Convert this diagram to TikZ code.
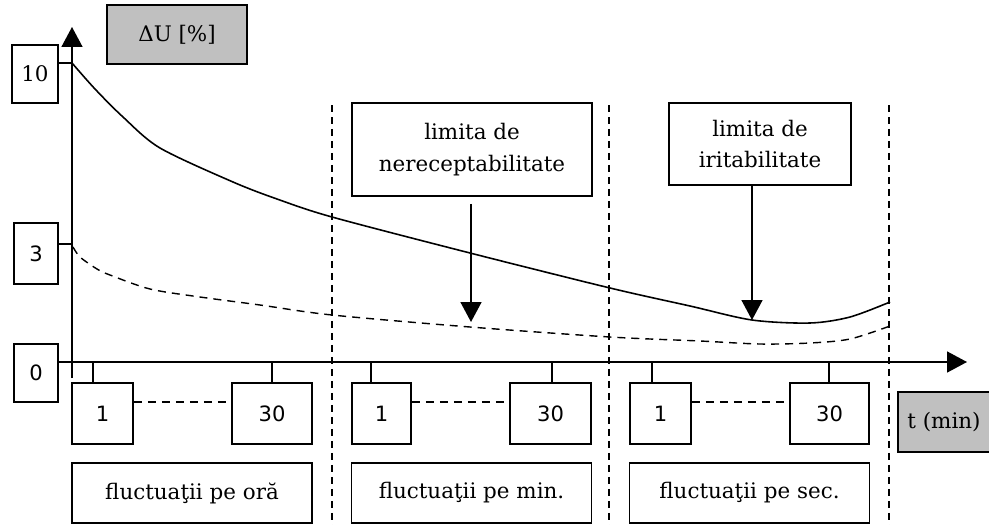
\documentclass[tikz,border=0pt]{standalone}
\usepackage{fontspec}
\setmainfont{DejaVu Serif}
\setsansfont{DejaVu Sans}
\usetikzlibrary{arrows.meta}
\definecolor{box_gray}{RGB}{192,192,192}

\begin{document}
\begin{tikzpicture}[x=0.02cm,y=-0.02cm,line width=0.9pt,>={Triangle[length=0.4cm,width=0.42cm]}]
    \tikzstyle{box}=[draw=black, rectangle, inner sep=0pt, align=center, text=black, font=\fontsize{12.2}{18}\selectfont]
    \tikzstyle{val}=[box, font=\sffamily\fontsize{12}{14}\selectfont, minimum height=1.22cm]
    \tikzstyle{tag}=[box, fill=box_gray, minimum height=1.2cm]
    \tikzstyle{band}=[box, minimum width=4.8cm, minimum height=1.2cm]
    \tikzstyle{divider}=[dash pattern=on 0.14cm off 0.1cm]
    \tikzstyle{gap}=[dash pattern=on 0.16cm off 0.12cm]

    \useasboundingbox (0,0) rectangle (989,524);

    % axes and scale values
    \coordinate (o)    at (72,362);
    \coordinate (ytop) at (72,27);
    \coordinate (ybot) at (72,378);
    \coordinate (xend) at (967,362);
    \coordinate (p10)  at (72,63);
    \coordinate (p3)   at (72,244);

    \node[box, minimum width=0.92cm, minimum height=1.16cm] (v10) at (35,74) {10};
    \node[val, minimum width=0.88cm, minimum height=1.22cm] (v3) at (36,253.5) {3};
    \node[val, minimum width=0.88cm, minimum height=1.16cm] (v0) at (36,373) {0};
    \node[tag, minimum width=2.8cm, minimum height=1.18cm] (du) at (177,34.5) {ΔU [\%]};
    \node[tag, minimum width=1.84cm] (tmin) at (944,422) {t (min)};

    \path
     (ybot) edge[->] (ytop)
     (o -| v0.east) edge[->] (xend)
     (p10 -| v10.east) edge[] (p10)
     (p3 -| v3.east) edge[] (p3)
     ;

    % time bands
    \foreach \x in {332,609,889}
      \draw[divider, line width=0.8pt] (\x,105) -- (\x,530);

    \node[val, minimum width=1.22cm] (a1)  at (102.5,413.5) {1};
    \node[val, minimum width=1.6cm]  (a30) at (272,413.5)   {30};
    \node[val, minimum width=1.18cm] (b1)  at (381.5,413.5) {1};
    \node[val, minimum width=1.62cm] (b30) at (550.5,413.5) {30};
    \node[val, minimum width=1.22cm] (c1)  at (660.5,413.5) {1};
    \node[val, minimum width=1.58cm] (c30) at (829.5,413.5) {30};

    \foreach \t/\b in {93/a1,272/a30,371/b1,552/b30,652/c1,829/c30}
      \draw (\t,362) -- (\b.north -| \t,0);

    \foreach \l/\r in {a1/a30,b1/b30,c1/c30}
      \draw[gap] ([yshift=0.23cm]\l.east) -- ([yshift=0.23cm]\r.west);

    \node[band] (fa) at (192,493)   {fluctuaţii pe oră};
    \node[band] (fb) at (471.5,493) {fluctuaţii pe min.};
    \node[band] (fc) at (749.5,493) {fluctuaţii pe sec.};

    % curves
    \draw plot[smooth] coordinates {(72,63) (95,89) (123,117) (160,148)
      (233,182) (277,199) (332,217) (470,253) (610,288) (690,306) (752,320)
      (810,323) (850,317) (890,302)};
    \draw[gap, line width=0.8pt] plot[smooth] coordinates {(73,247) (80,257) (97,269)
      (110,275) (150,289) (200,297) (260,305) (332,315) (470,327) (610,337)
      (700,341) (760,344) (810,343) (850,339) (890,326)};

    % limits
    \coordinate (m1) at (471,322);
    \coordinate (m2) at (752,320);
    \node[box, minimum width=4.8cm, minimum height=1.86cm] (nerecept) at (472,149.5)
      {limita de\\nereceptabilitate};
    \node[box, minimum width=3.64cm, minimum height=1.64cm] (iritab) at (760,144)
      {limita de\\iritabilitate};

    \path
     ([yshift=-0.14cm]nerecept.south -| m1) edge[->] (m1)
     (iritab.south -| m2) edge[->] (m2)
     ;
\end{tikzpicture}
\end{document}
